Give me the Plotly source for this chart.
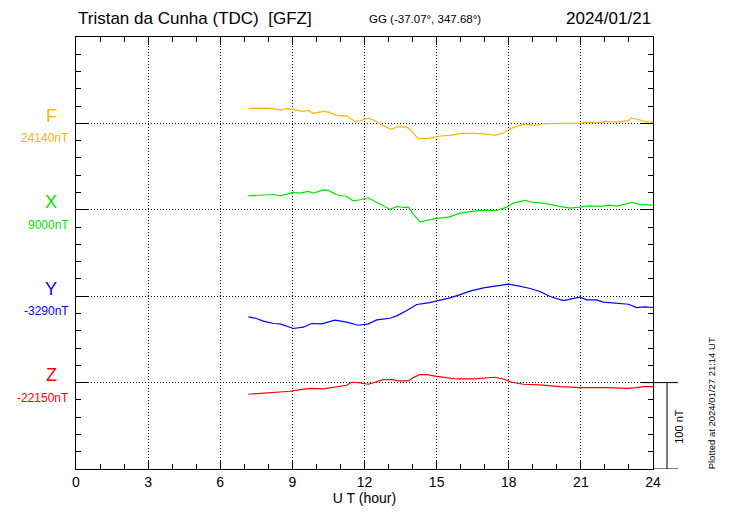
import plotly.graph_objects as go

# ---- data (UT hours, nT) ----
components = ["F", "X", "Y", "Z"]
base_nT = [24140, 9000, -3290, -22150]
colors = ["#FFB400", "#00E600", "#0000FF", "#FF0000"]
slots = [400, 300, 200, 100]

f_hours = [7.17, 7.72, 8.21, 8.49, 8.76, 9.04, 9.39, 9.66, 9.87, 10.29, 10.5, 10.84, 11.26, 11.6, 11.81,
           12.16, 12.44, 12.79, 13.13, 13.34, 13.76, 13.9, 14.24, 14.59, 14.87, 15.15, 15.56, 16.05, 16.53,
           17.08, 17.43, 17.78, 18.05, 18.33, 18.61, 19.09, 19.44, 20.13, 20.96, 21.24, 21.66, 22.07, 22.49,
           22.98, 23.11, 23.46, 23.74, 24.0]
f_nT = [24157.0, 24157.7, 24157.0, 24155.4, 24157.0, 24156.2, 24153.9, 24155.0, 24151.6, 24153.9, 24153.1,
        24149.3, 24148.5, 24142.3, 24143.1, 24146.2, 24143.1, 24136.9, 24133.1, 24136.1, 24135.8, 24132.7,
        24122.3, 24122.3, 24123.8, 24125.4, 24126.1, 24128.4, 24128.4, 24127.7, 24126.1, 24129.2, 24133.8,
        24136.9, 24139.2, 24137.7, 24139.6, 24140.0, 24140.0, 24141.5, 24140.8, 24142.3, 24141.5, 24143.1,
        24146.2, 24143.9, 24141.5, 24141.5]

x_hours = [7.17, 7.79, 8.21, 8.49, 9.04, 9.32, 9.66, 9.87, 10.29, 10.5, 10.84, 11.26, 11.53, 11.81, 12.16,
           12.51, 12.79, 13.06, 13.34, 13.62, 13.83, 14.03, 14.31, 14.59, 15.0, 15.49, 15.98, 16.53, 17.08,
           17.5, 17.92, 18.19, 18.68, 19.02, 19.44, 20.0, 20.55, 20.96, 21.31, 21.79, 22.21, 22.49, 22.77,
           23.11, 23.46, 24.0]
x_nT = [9016.2, 9017.4, 9017.7, 9016.2, 9020.1, 9019.3, 9021.2, 9019.3, 9023.1, 9022.4, 9017.4, 9015.4,
        9010.4, 9011.6, 9013.9, 9008.5, 9003.9, 9000.4, 9003.9, 9002.7, 9003.1, 8995.0, 8986.1, 8987.7,
        8990.0, 8991.5, 8996.1, 8998.5, 8999.6, 8999.2, 9003.1, 9007.7, 9010.8, 9008.5, 9007.7, 9004.6,
        9001.9, 9003.1, 9004.6, 9003.9, 9005.4, 9004.2, 9006.2, 9008.5, 9006.2, 9005.4]

y_hours = [7.17, 7.51, 7.79, 8.21, 8.49, 9.04, 9.46, 9.8, 10.22, 10.77, 11.26, 11.74, 12.16, 12.51, 13.06,
           13.34, 13.76, 14.17, 14.66, 15.07, 15.56, 15.98, 16.39, 16.95, 17.5, 17.98, 18.4, 18.89, 19.3,
           19.72, 20.27, 20.69, 20.96, 21.24, 21.66, 21.93, 22.49, 22.98, 23.32, 23.67, 24.0]
y_nT = [-3313.9, -3315.8, -3318.9, -3321.6, -3322.0, -3327.4, -3325.9, -3321.6, -3322.0, -3317.8, -3320.1,
        -3323.6, -3322.0, -3317.4, -3315.5, -3312.8, -3306.6, -3299.6, -3297.7, -3295.0, -3291.9, -3288.1,
        -3284.2, -3280.4, -3277.7, -3276.1, -3278.0, -3281.1, -3284.6, -3290.4, -3295.0, -3292.7, -3291.2,
        -3294.2, -3294.2, -3296.9, -3298.1, -3299.3, -3303.1, -3302.3, -3303.1]

z_hours = [7.17, 7.65, 8.21, 8.9, 9.32, 9.8, 10.29, 10.84, 11.26, 11.46, 11.74, 12.16, 12.44, 12.79, 13.2,
           13.34, 13.83, 14.03, 14.31, 14.59, 15.0, 15.84, 16.53, 16.95, 17.43, 17.78, 18.12, 18.61, 19.3,
           20.13, 20.96, 22.07, 22.98, 23.32, 23.6, 24.0]
z_nT = [-22163.5, -22162.7, -22161.6, -22160.0, -22158.1, -22156.6, -22157.3, -22155.0, -22153.1, -22149.6,
        -22150.0, -22151.9, -22149.6, -22146.5, -22146.5, -22148.1, -22148.1, -22144.2, -22140.7, -22140.7,
        -22142.7, -22145.8, -22145.8, -22144.6, -22143.8, -22145.8, -22149.6, -22151.9, -22152.7, -22154.6,
        -22155.8, -22155.8, -22156.6, -22155.8, -22154.6, -22154.6]

x_ticks = [0, 3, 6, 9, 12, 15, 18, 21, 24]

hours_list = [f_hours, x_hours, y_hours, z_hours]
values_list = [f_nT, x_nT, y_nT, z_nT]

FONT = "Liberation Sans, Arial, sans-serif"

fig = go.Figure()
for name, base, col, slot, hrs, vals in zip(components, base_nT, colors, slots, hours_list, values_list):
    fig.add_trace(go.Scatter(x=hrs, y=[v - base + slot for v in vals], mode="lines",
                             line=dict(color=col, width=1.2), name=name, showlegend=False))

annotations = []
for name, base, col, slot in zip(components, base_nT, colors, slots):
    annotations.append(dict(text=name, x=-0.043, xref="paper", y=slot, yref="y", yshift=7.5,
                            showarrow=False, xanchor="center", yanchor="middle",
                            font=dict(family=FONT, size=18, color=col)))
    annotations.append(dict(text=f"{base}nT", x=-0.009, xref="paper", y=slot, yref="y", yshift=-15,
                            showarrow=False, xanchor="right", yanchor="middle",
                            font=dict(family=FONT, size=12, color=col)))

annotations += [
    dict(text="Tristan da Cunha (TDC)  [GFZ]", x=0, xref="paper", y=1.042, yref="paper",
         showarrow=False, xanchor="left", yanchor="middle", font=dict(family=FONT, size=17, color="black")),
    dict(text="GG (-37.07°, 347.68°)", x=0.605, xref="paper", y=1.042, yref="paper",
         showarrow=False, xanchor="center", yanchor="middle", font=dict(family=FONT, size=11.5, color="black")),
    dict(text="2024/01/21", x=1.0, xref="paper", y=1.042, yref="paper",
         showarrow=False, xanchor="right", yanchor="middle", font=dict(family=FONT, size=17, color="black")),
    dict(text="100 nT", x=1.045, xref="paper", y=50, yref="y", textangle=-90,
         showarrow=False, xanchor="center", yanchor="middle", font=dict(family=FONT, size=11, color="black")),
    dict(text="Plotted at 2024/01/27 21:14 UT", x=1.1005, xref="paper", y=76, yref="y", textangle=-90,
         showarrow=False, xanchor="center", yanchor="middle", font=dict(family=FONT, size=9.5, color="black")),
]

shapes = [
    dict(type="line", xref="paper", yref="y", x0=0.981, x1=1.0433, y0=100, y1=100,
         line=dict(color="black", width=1)),
    dict(type="line", xref="paper", yref="y", x0=1.0, x1=1.0433, y0=0, y1=0,
         line=dict(color="black", width=1)),
    dict(type="line", xref="paper", yref="y", x0=1.0243, x1=1.0243, y0=0, y1=100,
         line=dict(color="black", width=1)),
]

fig.update_layout(
    width=730, height=520, autosize=False,
    margin=dict(l=76, r=77, t=37, b=51),
    paper_bgcolor="white", plot_bgcolor="white",
    annotations=annotations, shapes=shapes,
    font=dict(family=FONT, color="black"),
    xaxis=dict(range=[0, 24], tickvals=x_ticks, ticktext=[str(t) for t in x_ticks],
               ticks="inside", ticklen=8, tickcolor="black", tickwidth=1,
               showline=True, linecolor="black", linewidth=1, mirror="ticks",
               showgrid=True, gridcolor="black", gridwidth=1, griddash="1px,2px",
               zeroline=False, tickfont=dict(family=FONT, size=14, color="black"),
               minor=dict(dtick=1, tick0=0, ticks="inside", ticklen=5, tickcolor="black", showgrid=False),
               title=dict(text="U T (hour)", font=dict(family=FONT, size=14, color="black"), standoff=2)),
    yaxis=dict(range=[0, 500], tick0=0, dtick=100, showticklabels=False,
               ticks="inside", ticklen=12, tickcolor="black", tickwidth=1,
               showline=True, linecolor="black", linewidth=1, mirror="ticks",
               showgrid=True, gridcolor="black", gridwidth=1, griddash="1px,2px",
               zeroline=False,
               minor=dict(dtick=20, tick0=0, ticks="inside", ticklen=5, tickcolor="black", showgrid=False)),
)

fig.write_html("out.html", config={"displayModeBar": False},
               post_script="document.body.style.margin='0';document.body.style.overflow='hidden';")
